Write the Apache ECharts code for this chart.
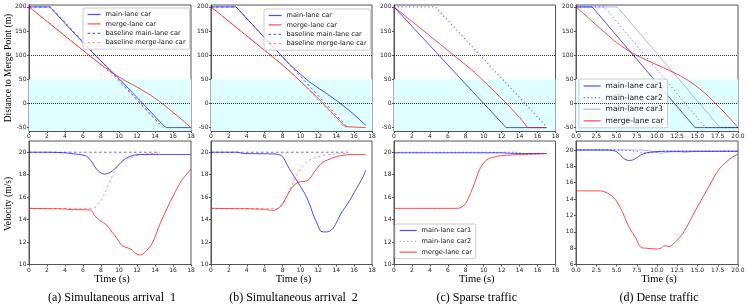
<!DOCTYPE html>
<html><head><meta charset="utf-8">
<script src="https://cdn.jsdelivr.net/npm/echarts@6/dist/echarts.min.js"></script>
<style>html,body{margin:0;padding:0;background:#fff}#c{width:747px;height:305px}</style>
</head><body><div id="c"></div>
<script>
// ---------- tick labels / ranges ----------
const distTicks = [-50, 0, 50, 100, 150, 200];
const distRange = [-57, 204];
const velTicksABC = [10, 12, 14, 16, 18, 20];
const velRangeABC = [10, 21];
const velTicksD = [6, 8, 10, 12, 14, 16, 18, 20];
const velRangeD = [6, 21.1];
const timeMaxABC = 18, timeStepABC = 2;
const timeMaxD = 20, timeStepD = 2.5;
const bandRange = [-57, 50];
const refLines = [100, 0];
const captions = ['(a) Simultaneous arrival  1', '(b) Simultaneous arrival  2', '(c) Sparse traffic', '(d) Dense traffic'];

// ---------- (a) Simultaneous arrival 1 ----------
const aDistMain = [[0,200],[2.3,200],[6,126],[7,106.5],[8,88],[9,70],[10,51.5],[11,32],[12,12.5],[13,-7],[14,-27],[15,-46.5],[15.3,-50],[18,-50]];
const aDistMerge = [[0,200],[1,185],[2,170],[3,155],[4,140],[5,125],[6,110],[7,95],[8,80.8],[9,67],[10,55],[11,44],[12,34],[13,23],[14,11],[15,-3],[16,-18.5],[17,-34],[18,-50]];
const aDistBaseMain = [[0,200],[2.4,200],[4,168],[6,128],[8,88],[10,48],[12,8],[14,-32],[14.9,-50]];
const aDistBaseMerge = [[0,200],[2,170],[4,140],[6,110],[7.5,87.5],[8,80],[8.5,72],[9,63.5],[9.5,54.5],[10,45.2],[10.5,35.6],[11,25.9],[11.5,16.1],[12,6.3],[13,-13.4],[14,-33.2],[14.5,-43.1]];
const aVelMain = [[0,20],[2,20],[4,19.95],[5,19.85],[6,19.75],[6.5,19.6],[7,19.1],[7.5,18.5],[8,18.15],[8.4,18.05],[9,18.2],[9.5,18.5],[10,18.9],[10.5,19.3],[11,19.55],[11.5,19.7],[12,19.78],[13,19.8],[18,19.8]];
const aVelBaseMain = [[0,20],[14.5,20]];
const aVelMerge = [[0,15],[2,14.97],[4,14.95],[4.5,14.9],[6,14.88],[6.8,14.85],[7.35,14.3],[7.9,13.9],[8.65,13.5],[9.2,12.9],[9.8,12.3],[10.3,11.7],[10.9,11.5],[11.45,11.3],[12,10.9],[12.4,10.85],[12.9,11.1],[13.7,11.9],[14.6,13.7],[15.7,15.6],[16.9,17.4],[18,18.5]];
const aVelBaseMerge = [[0,15],[7,15],[7.5,15.2],[8,15.7],[8.5,16.5],[9,17.4],[9.5,18.3],[10,18.9],[10.5,19.25],[11,19.45],[12,19.7],[13,19.85],[14,19.9],[14.5,19.95]];

// ---------- (b) Simultaneous arrival 2 ----------
const bDistMain = [[0,200],[2.8,200],[5,156],[7,116],[8,96.5],[9,77.5],[10,60.5],[11,45],[12,32],[13,19.5],[14,6.5],[15,-7.5],[16,-23],[17,-40],[17.3,-45]];
const bDistMerge = [[0,200],[2,170],[4,140],[6,110],[7,95],[8,79.7],[9,63.2],[10,46],[11,28.5],[12,10.2],[13,-8.9],[14,-28.4],[15,-48],[15.2,-50],[17.3,-50]];
const bDistBaseMain = [[0,200],[2.8,200],[5,156],[7,116],[9,76],[11,36],[13,-4],[15,-44],[15.3,-50]];
const bDistBaseMerge = [[0,200],[2,170],[4,140],[6,110],[7.6,86],[8,80],[8.5,72.2],[9,63.8],[9.5,54.9],[10,45.6],[10.5,36],[11,26.3],[11.5,16.5],[12,6.7],[13,-13],[14,-32.8],[14.9,-50]];
const bVelMain = [[0,20],[3,20],[3.5,19.9],[5,19.87],[7,19.85],[7.5,19.8],[8,19.6],[8.5,18.9],[9,18.2],[9.5,17.6],[10,16.95],[10.5,16.3],[11,15.4],[11.5,14.3],[12,13.4],[12.3,12.95],[12.9,12.9],[13.5,13.1],[14,13.7],[14.5,14.5],[15,15.1],[15.5,15.7],[16,16.4],[16.5,17.1],[17,17.8],[17.3,18.4]];
const bVelBaseMain = [[0,20],[15.3,20]];
const bVelMerge = [[0,15],[3,14.97],[6,14.92],[6.5,14.85],[7,14.82],[7.5,15.0],[8,15.4],[8.5,16.1],[9,16.8],[9.5,17.2],[10,17.38],[10.5,17.4],[11,17.6],[11.5,18.2],[12,18.7],[12.5,19.1],[13,19.3],[14,19.6],[15,19.75],[16,19.8],[17.3,19.8]];
const bVelBaseMerge = [[0,15],[7.5,15],[8,15.4],[8.5,16.2],[9,17.0],[9.5,17.8],[10,18.5],[10.5,19.0],[11,19.3],[12,19.6],[13,19.78],[14,19.85],[15.3,19.9]];

// ---------- (c) Sparse traffic ----------
const cDistCar1 = [[0,200],[2,160],[4,120],[6,80],[8,40],[10,0],[12,-40],[12.5,-50],[17,-50]];
const cDistCar2 = [[0,200],[4.6,200],[6,172],[8,132],[10,92],[12,52],[14,12],[16,-28],[17,-48]];
const cDistMerge = [[0,200],[2,170],[4,140],[6,110],[7,95],[8,80],[9,64],[10,46.5],[11,28.5],[12,10],[13,-9],[14,-29],[14.9,-50],[17,-50]];
const cVelCar1 = [[0,19.95],[12,19.95],[13,19.9],[17,19.88]];
const cVelCar2 = [[0,20],[13.5,20],[14.5,19.85],[15.2,19.8],[16,19.85],[17,19.87]];
const cVelMerge = [[0,15],[7,15],[7.5,15.1],[8,15.45],[8.5,16.3],[9,17.3],[9.5,18.4],[10,19.05],[10.5,19.4],[11,19.55],[12,19.7],[13,19.75],[14,19.8],[15,19.83],[16,19.86],[17,19.88]];

// ---------- (d) Dense traffic ----------
const dDistCar1 = [[0,200],[2,200],[4,160.6],[6,121],[8,81.9],[10,42.5],[12,3.1],[14,-36.2],[14.7,-50],[20,-50]];
const dDistCar2 = [[0,200],[3.5,200],[6,150],[8,110],[10,70],[12,30],[14,-10],[16,-50],[20,-50]];
const dDistCar3 = [[0,200],[5.1,200],[7,162.5],[9,123.2],[11,83.8],[13,44.4],[15,5],[17,-34.4],[17.8,-50],[20,-50]];
const dDistMerge = [[0,200],[1,185],[2,170],[3,155],[4,140.5],[5,126.5],[6,114.5],[7,104],[8,95.5],[9,87.5],[10,80],[11,72.5],[12,64.5],[13,56],[14,46],[15,34],[16,20],[17,4],[18,-13],[19,-31],[20,-50]];
const dVelCar1 = [[0,20],[4,20],[4.5,19.95],[5,19.8],[5.5,19.35],[6,18.9],[6.5,18.72],[7,18.78],[7.5,19.05],[8,19.4],[8.5,19.6],[9,19.7],[10,19.8],[11,19.85],[20,19.85]];
const dVelCar2 = [[0,20],[5.5,20],[6.5,19.95],[7.5,19.8],[8.5,19.62],[9.5,19.7],[10.5,19.82],[12,19.85],[20,19.85]];
const dVelCar3 = [[0,20],[8,20],[9,19.9],[10,19.7],[10.5,19.6],[11.5,19.75],[12.5,19.8],[13.5,19.7],[14.5,19.82],[20,19.85]];
const dVelMerge = [[0,15],[3,15],[3.6,14.85],[4.3,14.5],[4.9,13.9],[5.7,12.5],[6.5,10.65],[7.4,9.2],[8,8.1],[8.6,8.0],[9.9,7.9],[10.5,8.0],[10.9,8.3],[11.5,8.2],[12.3,8.8],[13.2,9.8],[14.8,12.7],[16.5,15.7],[17.7,17.7],[19,18.9],[20,19.5]];

// ---------- styling ----------
const BLUE = 'rgba(0,0,255,0.7)', RED = 'rgba(255,0,0,0.7)';
const BLUE_B = 'rgba(0,0,255,0.6)', RED_B = 'rgba(255,0,0,0.4)';
const BLUE_C2 = 'rgba(0,0,255,0.55)', BLUE_D2 = 'rgba(0,0,255,0.6)', BLUE_D3 = 'rgba(0,0,255,0.3)';
const DASH = [2.5, 2.5], DOT = [1.2, 2.6];
const FRAME = '#555';
const lefts = [29, 211, 394, 576], widths = [162, 161, 161.5, 162];
const TOP_T = 5, TOP_H = 126, BOT_T = 141, BOT_H = 123.5;

const grids = [], xAxes = [], yAxes = [], series = [];
for (let p = 0; p < 4; p++) {
  for (let r = 0; r < 2; r++) {
    const gi = p * 2 + r;
    grids.push({left: lefts[p], width: widths[p], top: r === 0 ? TOP_T : BOT_T, height: r === 0 ? TOP_H : BOT_H,
      show: true, borderColor: FRAME, borderWidth: 1, backgroundColor: 'transparent', containLabel: false, outerBoundsMode: 'none'});
    const isD = p === 3;
    xAxes.push({type: 'value', gridIndex: gi, min: 0, max: isD ? timeMaxD : timeMaxABC, interval: isD ? timeStepD : timeStepABC,
      axisLine: {show: true, onZero: false, lineStyle: {color: FRAME, width: 1}},
      axisTick: {show: true, length: 2, lineStyle: {color: FRAME}},
      splitLine: {show: false},
      axisLabel: {fontSize: 6, fontFamily: 'DejaVu Sans', color: '#222', margin: 2.5,
        formatter: isD ? (v => v.toFixed(1)) : (v => String(v))}});
    let ticks, rng;
    if (r === 0) { ticks = distTicks; rng = distRange; }
    else if (isD) { ticks = velTicksD; rng = velRangeD; }
    else { ticks = velTicksABC; rng = velRangeABC; }
    yAxes.push({type: 'value', gridIndex: gi, min: rng[0], max: rng[1],
      axisLine: {show: true, onZero: false, lineStyle: {color: FRAME, width: 1}},
      axisTick: {show: true, length: 2, customValues: ticks, lineStyle: {color: FRAME}},
      splitLine: {show: false},
      axisLabel: {fontSize: 6, fontFamily: 'DejaVu Sans', color: '#222', margin: 2.5, customValues: ticks}});
    if (r === 0) {
      const xmax = isD ? timeMaxD : timeMaxABC;
      series.push({type: 'line', name: '_bg' + gi, xAxisIndex: gi, yAxisIndex: gi, data: [], z: 1, silent: true,
        markArea: {silent: true, itemStyle: {color: '#e0ffff'}, data: [[{xAxis: 0, yAxis: bandRange[1]}, {xAxis: xmax, yAxis: bandRange[0]}]]},
        markLine: {silent: true, symbol: 'none', label: {show: false}, lineStyle: {color: '#333', type: [1, 1], width: 1},
          data: refLines.map(v => ({yAxis: v}))}});
    }
  }
}

function line(name, gi, data, color, type, smooth, width) {
  series.push({type: 'line', name: name, xAxisIndex: gi, yAxisIndex: gi, data: data, z: 3,
    symbol: 'none', showSymbol: false, smooth: smooth ? 0.35 : false, animation: false,
    lineStyle: {color: color, width: width || 1, type: type}, itemStyle: {color: color}});
}
// (a)
line('main-lane car', 0, aDistMain, BLUE, 'solid');
line('merge-lane car', 0, aDistMerge, RED, 'solid', true);
line('baseline main-lane car', 0, aDistBaseMain, BLUE_B, DASH);
line('baseline merge-lane car', 0, aDistBaseMerge, RED_B, DASH);
line('baseline main-lane car', 1, aVelBaseMain, BLUE_B, DASH);
line('baseline merge-lane car', 1, aVelBaseMerge, RED_B, DASH, true);
line('main-lane car', 1, aVelMain, BLUE, 'solid', true);
line('merge-lane car', 1, aVelMerge, RED, 'solid', true);
// (b)
line('main-lane car', 2, bDistMain, BLUE, 'solid');
line('merge-lane car', 2, bDistMerge, RED, 'solid');
line('baseline main-lane car', 2, bDistBaseMain, BLUE_B, DASH);
line('baseline merge-lane car', 2, bDistBaseMerge, RED_B, DASH);
line('baseline main-lane car', 3, bVelBaseMain, BLUE_B, DASH);
line('baseline merge-lane car', 3, bVelBaseMerge, RED_B, DASH, true);
line('main-lane car', 3, bVelMain, BLUE, 'solid', true);
line('merge-lane car', 3, bVelMerge, RED, 'solid', true);
// (c)
line('main-lane car1', 4, cDistCar1, BLUE, 'solid');
line('main-lane car2', 4, cDistCar2, BLUE_C2, DOT, false, 1.2);
line('merge-lane car', 4, cDistMerge, RED, 'solid');
line('main-lane car1', 5, cVelCar1, BLUE, 'solid', true);
line('main-lane car2', 5, cVelCar2, BLUE_C2, DOT, true, 1.2);
line('merge-lane car', 5, cVelMerge, RED, 'solid', true);
// (d)
line('main-lane car1', 6, dDistCar1, BLUE, 'solid');
line('main-lane car2', 6, dDistCar2, BLUE_D2, DOT);
line('main-lane car3', 6, dDistCar3, BLUE_D3, 'solid');
line('merge-lane car', 6, dDistMerge, RED, 'solid', true);
line('main-lane car1', 7, dVelCar1, BLUE, 'solid', true);
line('main-lane car2', 7, dVelCar2, BLUE_D2, DOT, true);
line('main-lane car3', 7, dVelCar3, BLUE_D3, 'solid', true);
line('merge-lane car', 7, dVelMerge, RED, 'solid', true);

const HIDE = {color: 'rgba(0,0,0,0)', borderColor: 'rgba(0,0,0,0)', borderWidth: 0, opacity: 0};
function legend(left, top, items, fs, iw, gap) {
  return {show: true, orient: 'vertical', left: left, top: top, selectedMode: false,
    itemWidth: iw, itemHeight: 7, itemGap: gap, padding: [3, 4, 3, 4],
    backgroundColor: 'rgba(255,255,255,0.8)', borderColor: '#ccc', borderWidth: 1, borderRadius: 2,
    itemStyle: HIDE,
    textStyle: {fontSize: fs, fontFamily: 'DejaVu Sans', color: '#111'},
    data: items.map(it => ({name: it[0], itemStyle: HIDE, lineStyle: {color: it[1], type: it[2], width: 1.2}}))};
}
const legABItems = [['main-lane car', BLUE, 'solid'], ['merge-lane car', RED, 'solid'], ['baseline main-lane car', BLUE_B, DASH], ['baseline merge-lane car', RED_B, DASH]];
const legends = [
  legend(83, 8, legABItems, 6.6, 13, 2.4),
  legend(264, 9, legABItems, 6.6, 13, 2.4),
  legend(395, 224, [['main-lane car1', BLUE, 'solid'], ['main-lane car2', 'rgba(0,0,255,0.35)', DOT], ['merge-lane car', RED, 'solid']], 6.6, 17, 3.8),
  legend(579, 79, [['main-lane car1', BLUE, 'solid'], ['main-lane car2', BLUE_D2, DOT], ['main-lane car3', BLUE_D3, 'solid'], ['merge-lane car', RED, 'solid']], 7.6, 17, 3.6)
];

const SERIF = '"Liberation Serif", "Times New Roman", serif';
const graphics = [
  {type: 'text', x: 8.5, y: 68, rotation: Math.PI / 2, style: {text: 'Distance to Merge Point (m)', font: '9.5px ' + SERIF, fill: '#000', align: 'center', verticalAlign: 'middle'}},
  {type: 'text', x: 8.5, y: 204, rotation: Math.PI / 2, style: {text: 'Velocity (m/s)', font: '9.5px ' + SERIF, fill: '#000', align: 'center', verticalAlign: 'middle'}}
];
for (let p = 0; p < 4; p++) {
  const cx = lefts[p] + widths[p] / 2;
  graphics.push({type: 'text', x: cx + 2, y: 279, style: {text: 'Time (s)', font: '10.5px ' + SERIF, fill: '#000', align: 'center', verticalAlign: 'middle'}});
  graphics.push({type: 'text', x: cx + 2, y: 297.5, style: {text: captions[p], font: '12px ' + SERIF, fill: '#000', align: 'center', verticalAlign: 'middle'}});
}

const chart = echarts.init(document.getElementById('c'), null, {renderer: 'canvas'});
chart.setOption({
  animation: false,
  backgroundColor: '#fff',
  grid: grids, xAxis: xAxes, yAxis: yAxes, series: series,
  legend: legends, graphic: graphics
});
</script></body></html>
